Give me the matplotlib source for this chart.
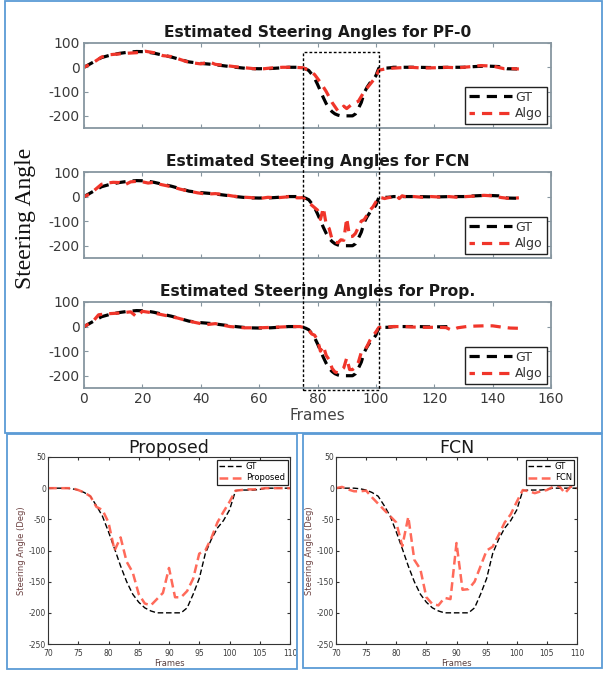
import matplotlib
matplotlib.use("Agg")
import matplotlib.pyplot as plt
from matplotlib.patches import Rectangle
import numpy as np

plt.rcParams['axes.unicode_minus'] = False

# ---- data: zoomed window (frames 70-110) ----
dip_frames = list(range(70, 111))
gt_dip = [0, 0, 0, 0, -1, -3, -7, -13, -28, -45, -70, -97, -125, -150, -170, -183, -192, -197,
          -200, -200, -200, -200, -200, -192, -170, -145, -105, -82, -64, -52, -35, -4, -3, -3,
          -3, -2, 0, 0, 0, 0, 0]
prop_dip = [0, 0, 0, 0, 0, -3, -7, -13, -30, -35, -55, -100, -79, -118, -135, -170, -185, -188,
            -178, -168, -128, -175, -175, -165, -145, -105, -100, -80, -55, -38, -22, -4, -3, -2,
            -2, -1, 0, 0, 0, 0, 0]
fcn_dip = [0, 2, -2, -5, -5, -4, -15, -25, -35, -45, -55, -93, -46, -115, -130, -175, -186, -188,
           -176, -178, -88, -163, -162, -150, -125, -100, -94, -75, -55, -42, -22, -3, -5, -8,
           -5, -3, 2, 4, -8, 3, 0]

# ---- data: full sequence (frames 0-149) ----
gt_head_frames = [0, 3, 6, 9, 12, 15, 18, 21, 24, 27, 30, 33, 36, 40, 44, 48, 52, 56, 60, 64, 68]
gt_head = [0, 20, 40, 50, 57, 62, 65, 64, 58, 50, 42, 32, 22, 16, 12, 6, 0, -5, -6, -5, -2]
gt_tail_frames = [114, 118, 122, 126, 130, 134, 138, 142, 145, 149]
gt_tail = [0, -1, -1, 0, 0, 3, 5, 3, -6, -7]

pf_frames = [0, 3, 6, 9, 12, 15, 18, 21, 24, 27, 30, 33, 36, 40, 43, 45, 48, 52, 56, 60,
             64, 68, 72, 75, 77, 79, 81, 83, 85, 87, 88, 89, 90, 92, 94, 96, 98, 100, 101, 104,
             108, 112, 116, 120, 124, 128, 132, 136, 140, 144, 146, 149]
pf_vals = [0, 18, 42, 52, 55, 58, 60, 66, 60, 48, 44, 32, 20, 14, 22, 12, 8, 2, -3, -8,
           -3, 0, 0, -2, -12, -30, -62, -100, -145, -180, -175, -160, -170, -150, -140, -100, -70, -40, -12, -5,
           -2, 0, -3, -2, 0, -2, 2, 7, 5, -6, -5, -7]

fcn_head_frames = [0, 2, 4, 6, 8, 10, 12, 14, 16, 18, 20, 22, 24, 26, 28, 30, 33, 36, 39, 42,
                   45, 48, 51, 54, 57, 60, 63, 66, 69]
fcn_head = [0, 10, 30, 50, 55, 58, 57, 48, 60, 62, 60, 55, 58, 50, 45, 40, 30, 22, 15, 10,
            12, 8, 2, -2, -4, -8, -3, -5, -2]
fcn_tail_frames = [113, 116, 119, 122, 125, 128, 131, 134, 137, 140, 143, 146, 149]
fcn_tail = [0, -3, 0, -2, 0, -3, 0, 2, 5, 3, -4, -8, -5]

prop_head_frames = [0, 3, 5, 8, 12, 16, 18, 20, 24, 28, 32, 36, 40, 42, 45, 50, 55, 60, 65, 69]
prop_head = [0, 20, 48, 52, 55, 60, 40, 62, 55, 45, 35, 22, 12, 8, 12, 0, -5, -5, -3, -1]
prop_tail_frames = [113, 116, 120, 124, 126, 128, 131, 134, 137, 140, 143, 146, 149]
prop_tail = [-2, -3, -3, -4, -15, -5, 0, 2, 3, 3, -2, -6, -7]
gt_prop_end = 126

top_titles = ['Estimated Steering Angles for PF-0',
              'Estimated Steering Angles for FCN',
              'Estimated Steering Angles for Prop.']
box_frames = (75, 101)
box_vals = (65, -258)

gt_full_f = gt_head_frames + dip_frames + gt_tail_frames
gt_full_v = gt_head + gt_dip + gt_tail
fcn_full_f = fcn_head_frames + dip_frames + fcn_tail_frames
fcn_full_v = fcn_head + fcn_dip + fcn_tail
prop_full_f = prop_head_frames + dip_frames + prop_tail_frames
prop_full_v = prop_head + prop_dip + prop_tail
gt_prop_f = [f for f in gt_full_f if f <= gt_prop_end]
gt_prop_v = gt_full_v[:len(gt_prop_f)]

W, H = 603, 675
fig = plt.figure(figsize=(W / 100, H / 100), dpi=100)

RED = '#f0352a'
SPINE = '#8796a0'
BLUE = '#5b9bd5'


def box(x0, y0, x1, y1):
    # pixel coords from top-left
    return [x0 / W, 1 - y1 / H, (x1 - x0) / W, (y1 - y0) / H]


top_specs = [
    (box(84, 43, 551, 128), gt_full_f, gt_full_v, pf_frames, pf_vals),
    (box(84, 172, 551, 258), gt_full_f, gt_full_v, fcn_full_f, fcn_full_v),
    (box(84, 302, 551, 388), gt_prop_f, gt_prop_v, prop_full_f, prop_full_v),
]
top_axes = []
for i, (rect, gf, gv, af, av) in enumerate(top_specs):
    ax = fig.add_axes(rect)
    ax.plot(gf, gv, color='black', lw=2.3, ls=(0, (3.2, 2.2)), label='GT')
    ax.plot(af, av, color=RED, lw=2.3, ls=(1.5, (3.2, 2.2)), label='Algo')
    ax.set_xlim(0, 160)
    ax.set_ylim(-250, 100)
    ax.set_yticks([100, 0, -100, -200])
    ax.set_xticks(np.arange(0, 161, 20))
    ax.tick_params(direction='in', length=3, top=True, right=True, color=SPINE,
                   labelsize=10, labelcolor='#3a3a3a', pad=3)
    if i < 2:
        ax.set_xticklabels([])
    for s in ax.spines.values():
        s.set_color(SPINE)
        s.set_linewidth(1.3)
    ax.set_title(top_titles[i], fontsize=11.2, fontweight='bold', pad=4, color='#1a1a1a')
    leg = ax.legend(loc='lower right', fontsize=9, handlelength=3.4, borderaxespad=0.35,
                    fancybox=False, framealpha=1, edgecolor='#222222', borderpad=0.3,
                    labelspacing=0.25, handletextpad=0.3)
    leg.get_frame().set_linewidth(1.0)
    for t in leg.get_texts():
        t.set_color('#333333')
    top_axes.append(ax)

top_axes[2].set_xlabel('Frames', fontsize=11, color='#444444', labelpad=1)

fig.text(25 / W, 1 - 218 / H, 'Steering Angle', rotation=90, ha='center', va='center',
         family='Liberation Serif', fontsize=17, color='#111111')

# dashed region box spanning the three top panels
p0 = top_axes[0].transData.transform((box_frames[0], box_vals[0]))
p1 = top_axes[2].transData.transform((box_frames[1], box_vals[1]))
f0 = fig.transFigure.inverted().transform(p0)
f1 = fig.transFigure.inverted().transform(p1)
fig.patches.append(Rectangle((f0[0], f1[1]), f1[0] - f0[0], f0[1] - f1[1],
                             transform=fig.transFigure, fill=False, ec='black',
                             lw=1.0, ls=(0, (2, 1.5)), zorder=10))

# bottom zoomed panels
bottom_specs = [
    (box(48, 457, 290, 644), prop_dip, 'Proposed'),
    (box(336, 457, 577, 644), fcn_dip, 'FCN'),
]
for rect, vals, name in bottom_specs:
    ax = fig.add_axes(rect)
    ax.plot(dip_frames, gt_dip, color='black', lw=1.0, ls=(0, (4, 2)), label='GT')
    ax.plot(dip_frames, vals, color='#ff5a48', lw=1.8, ls=(0, (3.5, 1.8)), alpha=0.9, label=name)
    ax.set_xlim(70, 110)
    ax.set_ylim(-250, 50)
    ax.set_xticks(np.arange(70, 111, 5))
    ax.set_yticks(np.arange(-250, 51, 50))
    ax.tick_params(direction='in', length=2.5, top=True, right=True, labelsize=5.5,
                   labelcolor='#3a3a3a', color='#333333', pad=1.5)
    ax.tick_params(axis='x', pad=3.5)
    for s in ax.spines.values():
        s.set_color('#333333')
        s.set_linewidth(0.8)
    ax.set_title(name, fontsize=12.5, pad=3, color='#1a1a1a')
    ax.set_xlabel('Frames', fontsize=6, color='#5a4040', labelpad=0.5)
    ax.set_ylabel('Steering Angle (Deg)', fontsize=6, color='#6b4040', labelpad=2)
    leg = ax.legend(loc='upper right', fontsize=6, handlelength=3.0, borderaxespad=0.3,
                    fancybox=False, framealpha=1, edgecolor='#222222', borderpad=0.3,
                    labelspacing=0.3, handletextpad=0.2)
    leg.get_frame().set_linewidth(0.9)

# blue panel frames
for x0, y0, x1, y1 in [(5, 1, 602, 433), (7, 434, 297, 669), (303, 434, 602, 668)]:
    r = box(x0, y0, x1, y1)
    fig.patches.append(Rectangle((r[0], r[1]), r[2], r[3], transform=fig.transFigure,
                                 fill=False, ec=BLUE, lw=1.3, zorder=0))

fig.savefig('out.png', dpi=100)
